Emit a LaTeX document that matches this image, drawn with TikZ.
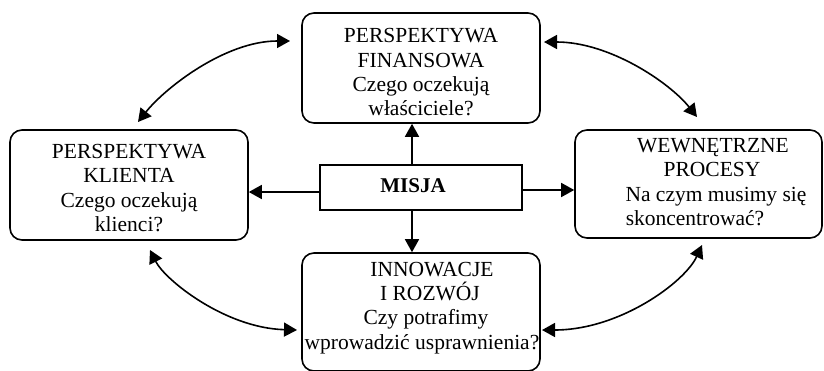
\documentclass[tikz,border=0pt]{standalone}
\usepackage{fontspec}
\setmainfont{Liberation Serif}
\usetikzlibrary{arrows.meta}
\tikzset{
  box/.style={draw, line width=1.6pt, rounded corners=12pt, inner sep=0pt},
  misbox/.style={draw, line width=1.6pt, inner sep=0pt},
  txt/.style={align=center, inner sep=0pt, font=\fontsize{21.5}{24.3}\selectfont},
  arr/.style={line width=1.6pt, -{Triangle[length=13pt,width=14pt]}},
  darr/.style={line width=1.6pt, {Triangle[length=13pt,width=14pt]}-{Triangle[length=13pt,width=14pt]}}
}
\begin{document}
\begin{tikzpicture}[x=1pt,y=-1pt]
\useasboundingbox (0,0) rectangle (824,370);
% boxes
\node[box, minimum width=238pt, minimum height=110pt] (fin) at (421,68) {};
\node[box, minimum width=238pt, minimum height=110pt] (kli) at (129,185) {};
\node[box, minimum width=247pt, minimum height=108pt] (wew) at (698.5,184) {};
\node[box, minimum width=238pt, minimum height=118pt] (inn) at (421,312) {};
\node[misbox, minimum width=202pt, minimum height=45pt] (mis) at (421,187.5) {};
% texts
\node[txt] (fint) at (421,72.4) {PERSPEKTYWA\\FINANSOWA\\Czego oczekują\\właściciele?};
\node[txt] (klit) at (129,188) {PERSPEKTYWA\\KLIENTA\\Czego oczekują\\klienci?};
\node[txt] (wewt) at (712,182) {WEWNĘTRZNE\hspace*{-2pt}\\PROCESY\hspace*{4pt}\\\hspace*{8pt}Na czym musimy się\\skoncentrować?\hspace*{34pt}};
\node[txt] (innt) at (422,308) {\hspace*{20pt}INNOWACJE\\\hspace*{16pt}I ROZWÓJ\\\hspace*{8pt}Czy potrafimy\\wprowadzić usprawnienia?};
\node[font=\fontsize{21}{24}\selectfont\bfseries, inner sep=0pt] (mist) at (413,186) {MISJA};
% straight arrows from MISJA
\coordinate (vx) at (412,0);
\coordinate (hl) at (0,192);
\coordinate (hr) at (0,190);
\draw[arr] (vx |- mis.north) -- (vx |- fin.south);
\draw[arr] (vx |- mis.south) -- (vx |- inn.north);
\draw[arr] (hl -| mis.west) -- (hl -| kli.east);
\draw[arr] (hr -| mis.east) -- (hr -| wew.west);
% curved arrows
\coordinate (a1) at (138,122);
\coordinate (b1) at (290,41);
\coordinate (a2) at (697,117);
\coordinate (b2) at (544,42);
\coordinate (a3) at (150,250);
\coordinate (b3) at (297,330);
\coordinate (a4) at (702,245);
\coordinate (b4) at (542,330);
\draw[darr] (a1) .. controls (165,88) and (225,41) .. (b1);
\draw[darr] (a2) .. controls (670,83) and (610,42) .. (b2);
\draw[darr] (a3) .. controls (165,280) and (225,328) .. (b3);
\draw[darr] (a4) .. controls (685,282) and (620,330) .. (b4);
\end{tikzpicture}
\end{document}
